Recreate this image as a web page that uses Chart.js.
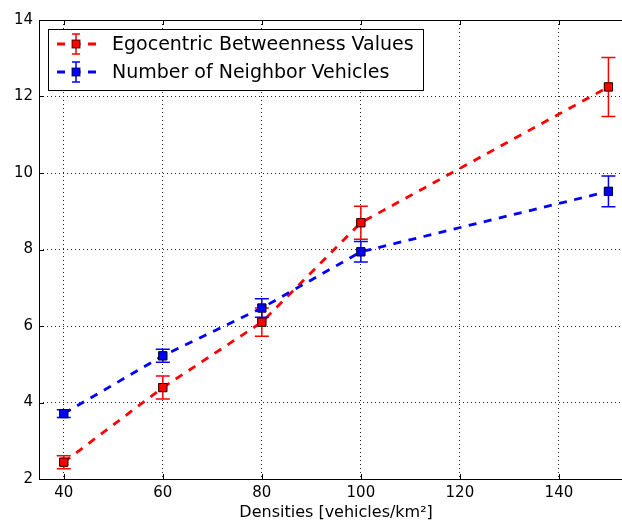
<!DOCTYPE html>
<html>
<head>
<meta charset="utf-8">
<script src="https://cdn.jsdelivr.net/npm/chart.js@4"></script>
<style>
  html, body { margin: 0; padding: 0; background: #fff; }
  #wrap { width: 622px; height: 525px; overflow: hidden; }
</style>
</head>
<body>
<div id="wrap"><canvas id="c" width="640" height="525"></canvas></div>
<script>
// Vehicle densities (vehicles/km²)
const densities = [40, 60, 80, 100, 150];

// Egocentric betweenness: mean and error half-width
const betweenness = [2.44, 4.39, 6.10, 8.70, 12.25];
const betweennessErr = [0.17, 0.30, 0.37, 0.43, 0.77];

// Number of neighbor vehicles: mean and error half-width
const neighbors = [3.71, 5.22, 6.47, 7.94, 9.52];
const neighborsErr = [0.10, 0.17, 0.24, 0.27, 0.40];

const xTicks = [40, 60, 80, 100, 120, 140];
const yTicks = [2, 4, 6, 8, 10, 12, 14];

const seriesNames = ['Egocentric Betweenness Values', 'Number of Neighbor Vehicles'];
const xTitle = 'Densities [vehicles/km²]';

const FONT = 'DejaVu Sans';
const DASH = [8, 7.5];

function series(label, values, errs, color, order) {
  return {
    label,
    data: densities.map((d, i) => ({ x: d, y: values[i] })),
    errors: errs,
    borderColor: color,
    backgroundColor: color,
    borderWidth: 2.8,
    borderDash: DASH,
    pointStyle: 'rect',
    pointRadius: 5.8,
    pointBorderWidth: 1,
    pointBorderColor: 'rgba(0,0,0,0.75)',
    pointBackgroundColor: color,
    tension: 0,
    fill: false,
    order
  };
}

// Vertical error bars with caps; markers are redrawn above them
const errorBars = {
  id: 'errorBars',
  afterDatasetsDraw(chart) {
    const { ctx, scales: { x, y } } = chart;
    ctx.save();
    chart.data.datasets.forEach(ds => {
      ctx.strokeStyle = ds.borderColor;
      ctx.lineWidth = 1.5;
      ds.data.forEach((p, i) => {
        const px = x.getPixelForValue(p.x);
        const top = y.getPixelForValue(p.y + ds.errors[i]);
        const bot = y.getPixelForValue(p.y - ds.errors[i]);
        ctx.beginPath();
        ctx.moveTo(px, top); ctx.lineTo(px, bot);
        ctx.moveTo(px - 7, top); ctx.lineTo(px + 7, top);
        ctx.moveTo(px - 7, bot); ctx.lineTo(px + 7, bot);
        ctx.stroke();
      });
    });
    chart.data.datasets.forEach((ds, di) => {
      const meta = chart.getDatasetMeta(di);
      meta.data.forEach(pt => pt.draw(ctx, chart.chartArea));
    });
    ctx.restore();
  }
};

// Frame on all four sides with inward tick marks
const frame = {
  id: 'frame',
  afterDraw(chart) {
    const { ctx, chartArea: a, scales: { x, y } } = chart;
    ctx.save();
    ctx.strokeStyle = '#000';
    ctx.lineWidth = 1;
    ctx.setLineDash([]);
    ctx.strokeRect(Math.round(a.left) + 0.5, Math.round(a.top) + 0.5,
      Math.round(a.right - a.left), Math.round(a.bottom - a.top));
    const L = 5;
    ctx.beginPath();
    xTicks.forEach(v => {
      const px = Math.round(x.getPixelForValue(v)) + 0.5;
      ctx.moveTo(px, a.bottom); ctx.lineTo(px, a.bottom - L);
      ctx.moveTo(px, a.top); ctx.lineTo(px, a.top + L);
    });
    yTicks.forEach(v => {
      const py = Math.round(y.getPixelForValue(v)) + 0.5;
      ctx.moveTo(a.left, py); ctx.lineTo(a.left + L, py);
      ctx.moveTo(a.right, py); ctx.lineTo(a.right - L, py);
    });
    ctx.stroke();
    ctx.restore();
  }
};

// Boxed legend with dashed line, error bar and square marker
const boxLegend = {
  id: 'boxLegend',
  afterDraw(chart) {
    const { ctx } = chart;
    const bx = 48.5, by = 29.5, bw = 375, bh = 61;
    ctx.save();
    ctx.fillStyle = '#fff';
    ctx.fillRect(bx, by, bw, bh);
    ctx.strokeStyle = '#000';
    ctx.lineWidth = 1;
    ctx.strokeRect(bx, by, bw, bh);
    ctx.font = '19px "' + FONT + '"';
    ctx.textBaseline = 'middle';
    chart.data.datasets.forEach((ds, i) => {
      const cy = 44 + i * 28;
      const mx = 76;
      ctx.strokeStyle = ds.borderColor;
      ctx.lineWidth = 2.8;
      ctx.setLineDash(DASH);
      ctx.beginPath();
      ctx.moveTo(57, cy); ctx.lineTo(96, cy);
      ctx.stroke();
      ctx.setLineDash([]);
      ctx.lineWidth = 1.5;
      ctx.beginPath();
      ctx.moveTo(mx, cy - 10); ctx.lineTo(mx, cy + 10);
      ctx.moveTo(mx - 4, cy - 10); ctx.lineTo(mx + 4, cy - 10);
      ctx.moveTo(mx - 4, cy + 10); ctx.lineTo(mx + 4, cy + 10);
      ctx.stroke();
      ctx.fillStyle = ds.borderColor;
      ctx.fillRect(mx - 4, cy - 4, 8, 8);
      ctx.strokeStyle = 'rgba(0,0,0,0.75)';
      ctx.lineWidth = 1;
      ctx.strokeRect(mx - 4, cy - 4, 8, 8);
      ctx.fillStyle = '#000';
      ctx.fillText(ds.label, 112, cy + 1);
    });
    ctx.restore();
  }
};

new Chart(document.getElementById('c'), {
  type: 'line',
  data: {
    datasets: [
      series(seriesNames[0], betweenness, betweennessErr, '#ff0000', 1),
      series(seriesNames[1], neighbors, neighborsErr, '#0000ff', 0)
    ]
  },
  options: {
    responsive: false,
    animation: false,
    layout: { padding: { top: 20, right: 6, left: 0, bottom: 0 } },
    plugins: { legend: { display: false }, tooltip: { enabled: false } },
    scales: {
      x: {
        type: 'linear',
        min: 35, max: 155,
        afterBuildTicks(s) { s.ticks = xTicks.map(v => ({ value: v })); },
        afterFit(s) { s.height = 46; },
        ticks: { color: '#000', padding: 5, font: { family: FONT, size: 15 } },
        grid: { color: 'rgba(0,0,0,0.85)', lineWidth: 1, drawTicks: false },
        border: { display: false, dash: [1, 3] },
        title: { display: true, text: xTitle, color: '#000', padding: { top: 0, bottom: 3 },
                 font: { family: FONT, size: 16 } }
      },
      y: {
        type: 'linear',
        min: 2, max: 14,
        afterBuildTicks(s) { s.ticks = yTicks.map(v => ({ value: v })); },
        afterFit(s) { s.width = 39; },
        ticks: { color: '#000', padding: 6, font: { family: FONT, size: 15 } },
        grid: { color: 'rgba(0,0,0,0.85)', lineWidth: 1, drawTicks: false },
        border: { display: false, dash: [1, 3] }
      }
    }
  },
  plugins: [errorBars, frame, boxLegend]
});
</script>
</body>
</html>
